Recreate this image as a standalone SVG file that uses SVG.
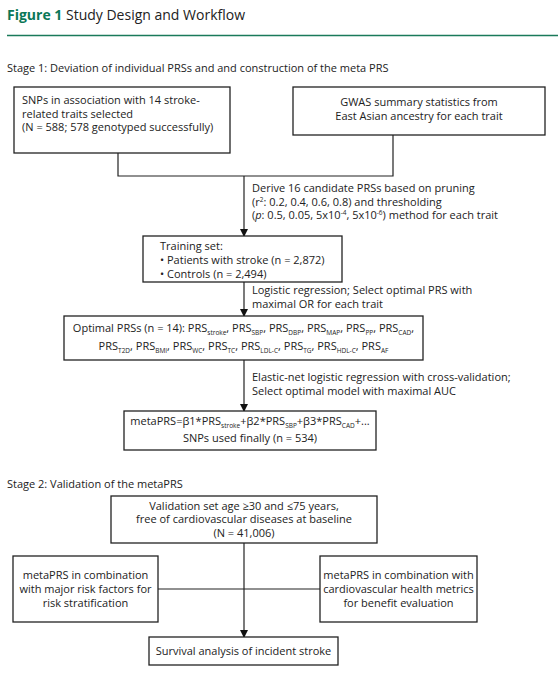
<svg xmlns="http://www.w3.org/2000/svg" width="558" height="674" viewBox="0 0 558 674">
<defs>
<marker id="ah" markerWidth="8" markerHeight="8" refX="7" refY="4" orient="auto" markerUnits="userSpaceOnUse">
<path d="M0,0 L8,4 L0,8 Z" fill="#111"/>
</marker>
<style>
text{font-family:"Open Sans","Noto Sans","Liberation Sans",sans-serif;font-size:11px;fill:#222}
.box{fill:#fff;stroke:#222;stroke-width:1.3}
.ln{fill:none;stroke:#222;stroke-width:1.2}
.c{text-anchor:middle}
.s{font-size:6.5px}
.title{font-size:14px}
</style>
</defs>
<rect width="558" height="674" fill="#fff"/>
<g id="header">
<text x="7" y="20" class="title"><tspan font-weight="bold" fill="#0b7757">Figure 1</tspan> Study Design and Workflow</text>
<line x1="7" y1="35.5" x2="558" y2="35.5" stroke="#1a7a5a" stroke-width="1.5"/>
<text x="7" y="72">Stage 1: Deviation of individual PRSs and and construction of the meta PRS</text>
<text x="7" y="488">Stage 2: Validation of the metaPRS</text>
</g>
<g id="connectors">
<path class="ln" d="M118,153 V176 H393 V135"/>
<path class="ln" d="M244,176 V236" marker-end="url(#ah)"/>
<path class="ln" d="M244,282 V316" marker-end="url(#ah)"/>
<path class="ln" d="M244,360 V411" marker-end="url(#ah)"/>
<path class="ln" d="M244,543 V637" marker-end="url(#ah)"/>
<path class="ln" d="M158,589 H320"/>
<g id="edge-labels">
<text x="252" y="192">Derive 16 candidate PRSs based on pruning</text>
<text x="252" y="205.5">(r<tspan dy="-4" class="s">2</tspan><tspan dy="4">: 0.2, 0.4, 0.6, 0.8) and thresholding</tspan></text>
<text x="252" y="219">(<tspan font-style="italic">p</tspan>: 0.5, 0.05, 5x10<tspan dy="-4" class="s">-4</tspan><tspan dy="4">, 5x10</tspan><tspan dy="-4" class="s">-6</tspan><tspan dy="4">) method for each trait</tspan></text>
<text x="252" y="294">Logistic regression; Select optimal PRS with</text>
<text x="252" y="308">maximal OR for each trait</text>
<text x="252" y="381">Elastic-net logistic regression with cross-validation;</text>
<text x="252" y="395">Select optimal model with maximal AUC</text>
</g>
</g>
<g id="snps">
<rect class="box" x="14" y="87" width="216" height="66"/>
<text x="22" y="104">SNPs in association with 14 stroke-</text>
<text x="22" y="117.5">related traits selected</text>
<text x="22" y="131">(N = 588; 578 genotyped successfully)</text>
</g>
<g id="gwas">
<rect class="box" x="293" y="87" width="252" height="48"/>
<text x="419" y="106" class="c">GWAS summary statistics from</text>
<text x="419" y="120" class="c">East Asian ancestry for each trait</text>
</g>
<g id="training">
<rect class="box" x="143" y="236" width="199" height="46"/>
<text x="160" y="250">Training set:</text>
<text x="160" y="264">• Patients with stroke (n = 2,872)</text>
<text x="160" y="278">• Controls (n = 2,494)</text>
</g>
<g id="optimal">
<rect class="box" x="64" y="316" width="359" height="44"/>
<text x="243.5" y="332" class="c">Optimal PRSs (n = 14): PRS<tspan dy="3" class="s">stroke</tspan><tspan dy="-3">, PRS</tspan><tspan dy="3" class="s">SBP</tspan><tspan dy="-3">, PRS</tspan><tspan dy="3" class="s">DBP</tspan><tspan dy="-3">, PRS</tspan><tspan dy="3" class="s">MAP</tspan><tspan dy="-3">, PRS</tspan><tspan dy="3" class="s">PP</tspan><tspan dy="-3">, PRS</tspan><tspan dy="3" class="s">CAD</tspan><tspan dy="-3">,</tspan></text>
<text x="243.5" y="350" class="c">PRS<tspan dy="3" class="s">T2D</tspan><tspan dy="-3">, PRS</tspan><tspan dy="3" class="s">BMI</tspan><tspan dy="-3">, PRS</tspan><tspan dy="3" class="s">WC</tspan><tspan dy="-3">, PRS</tspan><tspan dy="3" class="s">TC</tspan><tspan dy="-3">, PRS</tspan><tspan dy="3" class="s">LDL-C</tspan><tspan dy="-3">, PRS</tspan><tspan dy="3" class="s">TG</tspan><tspan dy="-3">, PRS</tspan><tspan dy="3" class="s">HDL-C</tspan><tspan dy="-3">, PRS</tspan><tspan dy="3" class="s">AF</tspan></text>
</g>
<g id="metaprs">
<rect class="box" x="124" y="411" width="252" height="39"/>
<text x="250" y="425" class="c">metaPRS=β1*PRS<tspan dy="2.5" class="s">stroke</tspan><tspan dy="-2.5">+β2*PRS</tspan><tspan dy="2.5" class="s">SBP</tspan><tspan dy="-2.5">+β3*PRS</tspan><tspan dy="2.5" class="s">CAD</tspan><tspan dy="-2.5">+...</tspan></text>
<text x="250" y="442" class="c">SNPs used finally (n = 534)</text>
</g>
<g id="validation">
<rect class="box" x="111" y="496" width="266" height="47"/>
<text x="244" y="509.5" class="c">Validation set age ≥30 and ≤75 years,</text>
<text x="244" y="523" class="c">free of cardiovascular diseases at baseline</text>
<text x="244" y="536.5" class="c">(N = 41,006)</text>
</g>
<g id="risk">
<rect class="box" x="13" y="556" width="145" height="66"/>
<text x="85.5" y="579" class="c">metaPRS in combination</text>
<text x="85.5" y="593" class="c">with major risk factors for</text>
<text x="85.5" y="607" class="c">risk stratification</text>
</g>
<g id="health">
<rect class="box" x="320" y="556" width="157" height="66"/>
<text x="398.5" y="579" class="c">metaPRS in combination with</text>
<text x="398.5" y="593" class="c">cardiovascular health metrics</text>
<text x="398.5" y="607" class="c">for benefit evaluation</text>
</g>
<g id="survival">
<rect class="box" x="149" y="637" width="189" height="28"/>
<text x="243.5" y="655" class="c">Survival analysis of incident stroke</text>
</g>
</svg>
